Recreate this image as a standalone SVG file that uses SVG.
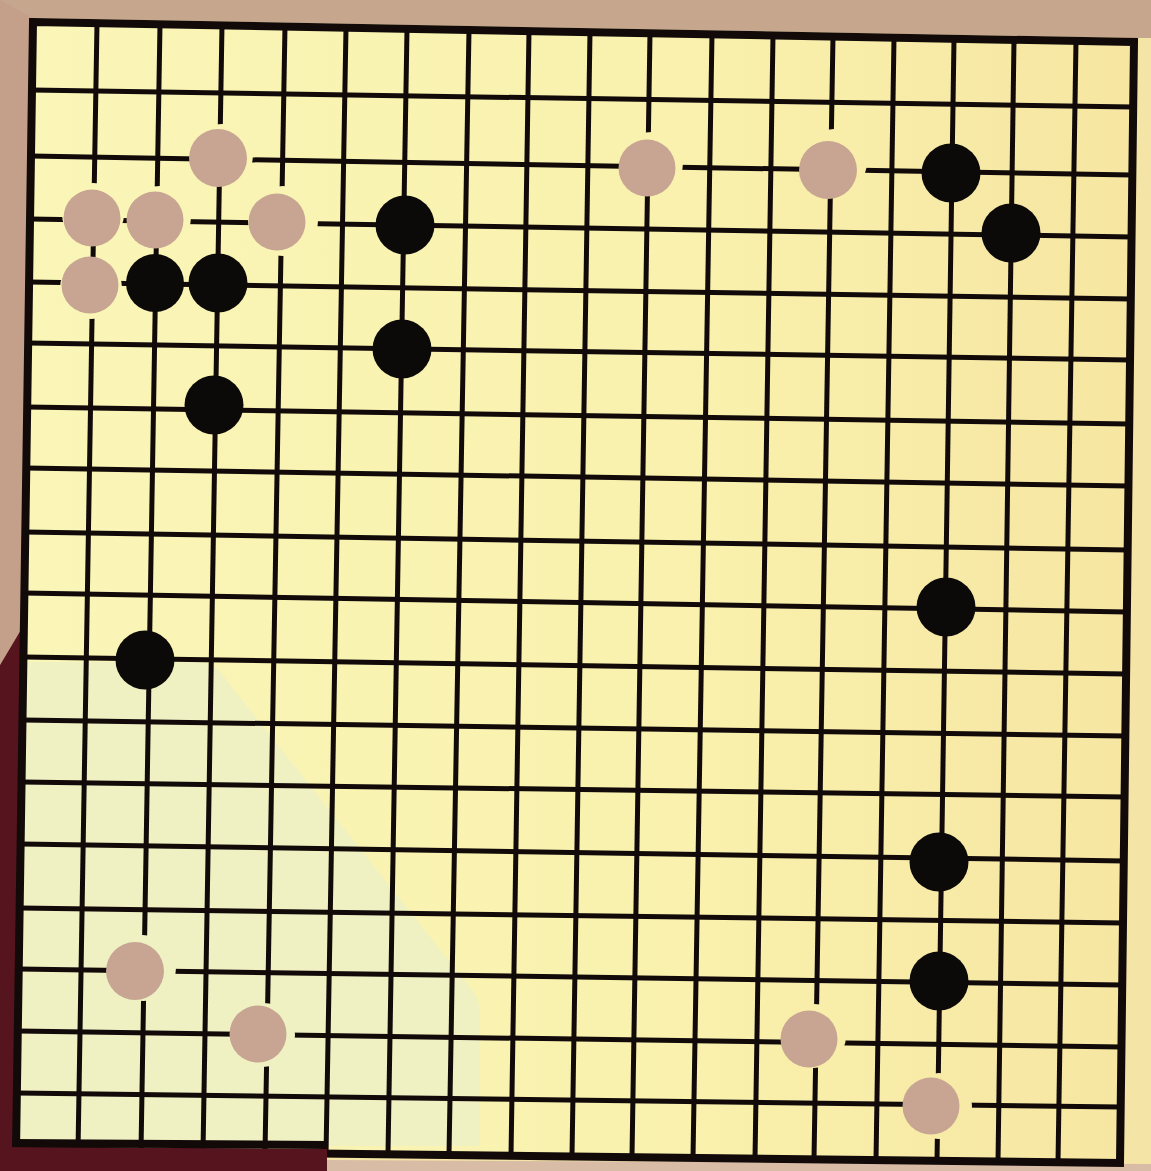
<svg xmlns="http://www.w3.org/2000/svg" width="1151" height="1171" viewBox="0 0 1151 1171">
  <defs>
    <linearGradient id="paper" x1="0" y1="0" x2="1" y2="0">
      <stop offset="0" stop-color="#faf6b8"/>
      <stop offset="0.6" stop-color="#f9f1ad"/>
      <stop offset="1" stop-color="#f6e6a2"/>
    </linearGradient>
    <mask id="holes" maskUnits="userSpaceOnUse" x="0" y="0" width="1151" height="1171">
      <rect x="0" y="0" width="1151" height="1171" fill="#fff"/>
      <g fill="#000">
        <circle cx="222" cy="155" r="31"/>
        <circle cx="93" cy="214" r="31"/>
        <circle cx="160" cy="217" r="31"/>
        <circle cx="283" cy="221" r="35"/>
        <circle cx="91" cy="288" r="31"/>
        <circle cx="652" cy="163" r="31"/>
        <circle cx="834" cy="162" r="33"/>
        <circle cx="143" cy="968" r="33"/>
        <circle cx="263" cy="1035" r="32"/>
        <circle cx="814" cy="1036" r="32"/>
        <circle cx="939" cy="1106" r="33"/>
      </g>
    </mask>
    <style>
      .grid line { stroke: #110a09; stroke-width: 5; stroke-linecap: butt; }
      .white { fill: #c7a592; }
      .black { fill: #0c0909; }
    </style>
  </defs>

  <g id="background">
    <rect x="0" y="0" width="1151" height="1171" fill="#f4e5a6"/>
    <polygon points="0,0 1151,0 1151,38 1134,38 33,18 0,18" fill="#c7a68e"/>
    <polygon points="0,0 33,18 22,628 0,665" fill="#c4a08a"/>
    <polygon points="0,665 22,628 14,1147 327,1147 327,1171 0,1171" fill="#56141e"/>
    <polygon points="327,1160 1151,1164 1151,1171 327,1171" fill="#d9bca6"/>
  </g>

  <g id="board">
    <polygon points="33,22 1134,42 1120,1163 16,1150" fill="url(#paper)"/>
    <path d="M20,662 L200,662 Q212,662 220,672 L472,990 Q480,1000 480,1014 L480,1146 L18,1146 Z" fill="#eff1c2"/>
  </g>

  <g id="grid" class="grid" mask="url(#holes)">
    <line x1="97" y1="23" x2="78" y2="1151"/>
    <line x1="160" y1="24" x2="141" y2="1151"/>
    <line x1="222" y1="25" x2="203" y2="1152"/>
    <line x1="285" y1="26" x2="265" y2="1153"/>
    <line x1="346" y1="28" x2="326" y2="1154"/>
    <line x1="407" y1="29" x2="388" y2="1154"/>
    <line x1="469" y1="30" x2="449" y2="1155"/>
    <line x1="529" y1="31" x2="511" y2="1156"/>
    <line x1="590" y1="32" x2="572" y2="1157"/>
    <line x1="650" y1="33" x2="632" y2="1157"/>
    <line x1="712" y1="34" x2="693" y2="1158"/>
    <line x1="773" y1="35" x2="755" y2="1159"/>
    <line x1="833" y1="36" x2="814" y2="1159"/>
    <line x1="894" y1="38" x2="876" y2="1160"/>
    <line x1="954" y1="39" x2="937" y2="1161"/>
    <line x1="1014" y1="40" x2="998" y2="1162"/>
    <line x1="1076" y1="41" x2="1058" y2="1162"/>
    <line x1="32" y1="90" x2="1133" y2="107"/>
    <line x1="31" y1="156" x2="1132" y2="175"/>
    <line x1="30" y1="219" x2="1132" y2="237"/>
    <line x1="29" y1="282" x2="1131" y2="299"/>
    <line x1="28" y1="343" x2="1130" y2="360"/>
    <line x1="27" y1="407" x2="1129" y2="424"/>
    <line x1="26" y1="468" x2="1129" y2="486"/>
    <line x1="25" y1="532" x2="1128" y2="550"/>
    <line x1="24" y1="593" x2="1127" y2="612"/>
    <line x1="24" y1="657" x2="1126" y2="674"/>
    <line x1="23" y1="720" x2="1125" y2="736"/>
    <line x1="22" y1="782" x2="1125" y2="797"/>
    <line x1="21" y1="844" x2="1124" y2="861"/>
    <line x1="20" y1="908" x2="1123" y2="923"/>
    <line x1="19" y1="969" x2="1122" y2="985"/>
    <line x1="18" y1="1031" x2="1122" y2="1047"/>
    <line x1="17" y1="1093" x2="1121" y2="1107"/>
  </g>

  <g id="border">
    <polygon points="33,22 1134,42 1120,1163 16,1150" fill="none" stroke="#110a09" stroke-width="8" stroke-linejoin="miter"/>
    <polygon points="0,1147 327,1149 327,1171 0,1171" fill="#56141e"/>
    <line x1="14" y1="1143" x2="327" y2="1145" stroke="#110a09" stroke-width="8"/>
  </g>

  <g id="stones">
    <g id="white-stones" class="white">
      <circle id="w1" cx="218" cy="158" r="29"/>
      <circle id="w2" cx="92" cy="218" r="28.5"/>
      <circle id="w3" cx="155" cy="220" r="28.5"/>
      <circle id="w4" cx="277" cy="222" r="28.5"/>
      <circle id="w5" cx="90" cy="285" r="28.5"/>
      <circle id="w6" cx="647" cy="168" r="28.5"/>
      <circle id="w7" cx="828" cy="170" r="29"/>
      <circle id="w8" cx="135" cy="971" r="29"/>
      <circle id="w9" cx="258" cy="1034" r="28.5"/>
      <circle id="w10" cx="809" cy="1039" r="28.5"/>
      <circle id="w11" cx="931" cy="1106" r="28.5"/>
    </g>
    <g id="black-stones" class="black">
      <circle id="b1" cx="405" cy="225" r="29.5"/>
      <circle id="b2" cx="155" cy="283" r="29"/>
      <circle id="b3" cx="218" cy="283" r="29.5"/>
      <circle id="b4" cx="402" cy="349" r="29.5"/>
      <circle id="b5" cx="214" cy="405" r="29.5"/>
      <circle id="b6" cx="145" cy="660" r="29.5"/>
      <circle id="b7" cx="951" cy="173" r="29.5"/>
      <circle id="b8" cx="1011" cy="233" r="29.5"/>
      <circle id="b9" cx="946" cy="607" r="29.5"/>
      <circle id="b10" cx="939" cy="862" r="29.5"/>
      <circle id="b11" cx="939" cy="981" r="29.5"/>
    </g>
  </g>
</svg>
